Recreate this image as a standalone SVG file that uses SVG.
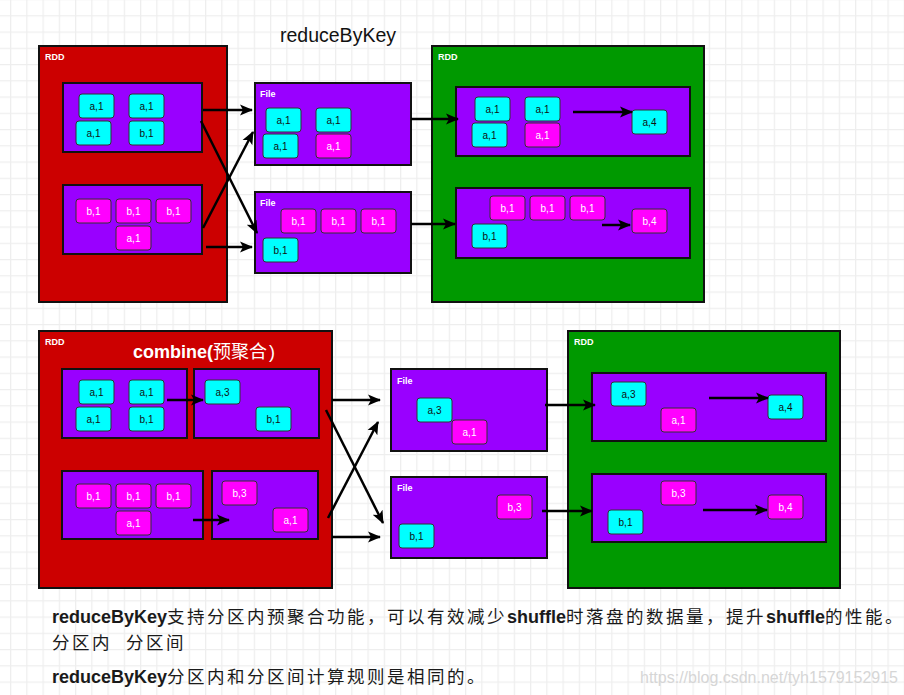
<svg xmlns="http://www.w3.org/2000/svg" width="904" height="695" viewBox="0 0 904 695">
<defs>
<pattern id="grid" patternUnits="userSpaceOnUse" x="10" y="-1" width="16.25" height="16.25">
<path d="M0 0.5H16.25M0.5 0V16.25" stroke="#eeeeee" stroke-width="1.5" fill="none"/>
</pattern>
<marker id="ah" markerUnits="userSpaceOnUse" markerWidth="14" markerHeight="14" refX="12" refY="7" orient="auto">
<path d="M0,1.5 L13,7 L0,12.5 L3,7 Z" fill="#000"/>
</marker>
<style>
.red{fill:#cc0000;stroke:#111;stroke-width:2}
.grn{fill:#009900;stroke:#111;stroke-width:2}
.pur{fill:#9900ff;stroke:#111;stroke-width:2}
.c{fill:#00ffff;stroke:#333;stroke-width:1}
.m{fill:#ff00ff;stroke:#333;stroke-width:1}
.ct{font-family:"Liberation Sans",Arial,sans-serif;font-size:10px;fill:#111;text-anchor:middle}
.mt{font-family:"Liberation Sans",Arial,sans-serif;font-size:10px;fill:#fff;text-anchor:middle}
.lbl{font-family:"Liberation Sans",Arial,sans-serif;font-size:9px;font-weight:bold;fill:#fff}
.cn{stroke:#000;stroke-width:2.5;fill:none;marker-end:url(#ah)}
.lat{font-family:"Liberation Sans",Arial,sans-serif;font-weight:bold;font-size:18px}
.cjk{font-family:"Noto Sans CJK SC",sans-serif;font-weight:normal}
.body{fill:#1a1a1a}
.bc{font-family:"Noto Sans CJK SC",sans-serif;font-size:17.5px;letter-spacing:2.5px}
</style>
</defs>
<rect width="904" height="695" fill="#ffffff"/>
<rect width="904" height="695" fill="url(#grid)"/>

<text x="280" y="42" font-family="'Liberation Sans',Arial,sans-serif" font-size="19.5" fill="#111">reduceByKey</text>

<g id="rdd-top-src">
<rect class="red" x="39" y="46" width="188" height="256"/>
<text class="lbl" x="45" y="60">RDD</text>
</g>
<g id="part-top-src-1">
<rect class="pur" x="63" y="83" width="139" height="69"/>
<rect class="c" x="79" y="94" width="35" height="24" rx="3"/><text class="ct" x="96.5" y="110">a,1</text>
<rect class="c" x="129" y="94" width="35" height="24" rx="3"/><text class="ct" x="146.5" y="110">a,1</text>
<rect class="c" x="76" y="121" width="35" height="24" rx="3"/><text class="ct" x="93.5" y="137">a,1</text>
<rect class="c" x="129" y="121" width="35" height="24" rx="3"/><text class="ct" x="146.5" y="137">b,1</text>
</g>
<g id="part-top-src-2">
<rect class="pur" x="63" y="185" width="139" height="69"/>
<rect class="m" x="76" y="199" width="35" height="24" rx="3"/><text class="mt" x="93.5" y="215">b,1</text>
<rect class="m" x="116" y="199" width="35" height="24" rx="3"/><text class="mt" x="133.5" y="215">b,1</text>
<rect class="m" x="156" y="199" width="35" height="24" rx="3"/><text class="mt" x="173.5" y="215">b,1</text>
<rect class="m" x="116" y="226" width="35" height="24" rx="3"/><text class="mt" x="133.5" y="242">a,1</text>
</g>

<g id="file-top-1">
<rect class="pur" x="255" y="83" width="156" height="82"/>
<text class="lbl" x="260" y="97">File</text>
<rect class="c" x="266" y="108" width="35" height="24" rx="3"/><text class="ct" x="283.5" y="124">a,1</text>
<rect class="c" x="316" y="108" width="35" height="24" rx="3"/><text class="ct" x="333.5" y="124">a,1</text>
<rect class="c" x="263" y="134" width="35" height="24" rx="3"/><text class="ct" x="280.5" y="150">a,1</text>
<rect class="m" x="316" y="134" width="35" height="24" rx="3"/><text class="mt" x="333.5" y="150">a,1</text>
</g>
<g id="file-top-2">
<rect class="pur" x="255" y="192" width="156" height="81"/>
<text class="lbl" x="260" y="206">File</text>
<rect class="m" x="281" y="209" width="35" height="24" rx="3"/><text class="mt" x="298.5" y="225">b,1</text>
<rect class="m" x="321" y="209" width="35" height="24" rx="3"/><text class="mt" x="338.5" y="225">b,1</text>
<rect class="m" x="361" y="209" width="35" height="24" rx="3"/><text class="mt" x="378.5" y="225">b,1</text>
<rect class="c" x="263" y="238" width="35" height="24" rx="3"/><text class="ct" x="280.5" y="254">b,1</text>
</g>

<g id="rdd-top-dst">
<rect class="grn" x="432" y="46" width="272" height="256"/>
<text class="lbl" x="438" y="60">RDD</text>
</g>
<g id="part-top-dst-1">
<rect class="pur" x="456" y="87" width="234" height="69"/>
<rect class="c" x="475" y="97" width="35" height="24" rx="3"/><text class="ct" x="492.5" y="113">a,1</text>
<rect class="c" x="525" y="97" width="35" height="24" rx="3"/><text class="ct" x="542.5" y="113">a,1</text>
<rect class="c" x="472" y="123" width="35" height="24" rx="3"/><text class="ct" x="489.5" y="139">a,1</text>
<rect class="m" x="525" y="123" width="35" height="24" rx="3"/><text class="mt" x="542.5" y="139">a,1</text>
<rect class="c" x="632" y="110" width="35" height="24" rx="3"/><text class="ct" x="649.5" y="126">a,4</text>
</g>
<g id="part-top-dst-2">
<rect class="pur" x="456" y="188" width="234" height="70"/>
<rect class="m" x="490" y="196" width="35" height="24" rx="3"/><text class="mt" x="507.5" y="212">b,1</text>
<rect class="m" x="530" y="196" width="35" height="24" rx="3"/><text class="mt" x="547.5" y="212">b,1</text>
<rect class="m" x="570" y="196" width="35" height="24" rx="3"/><text class="mt" x="587.5" y="212">b,1</text>
<rect class="c" x="472" y="224" width="35" height="24" rx="3"/><text class="ct" x="489.5" y="240">b,1</text>
<rect class="m" x="632" y="209" width="35" height="24" rx="3"/><text class="mt" x="649.5" y="225">b,4</text>
</g>

<g id="rdd-bot-src">
<rect class="red" x="39" y="331" width="293" height="257"/>
<text class="lbl" x="45" y="345">RDD</text>
<text x="133" y="358" font-size="18" fill="#fff"><tspan class="lat">combine(</tspan><tspan class="cjk">预聚合</tspan><tspan font-family="'Liberation Sans',sans-serif" dx="2">)</tspan></text>
</g>
<g id="part-bot-src-1a">
<rect class="pur" x="62" y="369" width="125" height="69"/>
<rect class="c" x="79" y="380" width="35" height="24" rx="3"/><text class="ct" x="96.5" y="396">a,1</text>
<rect class="c" x="129" y="380" width="35" height="24" rx="3"/><text class="ct" x="146.5" y="396">a,1</text>
<rect class="c" x="76" y="407" width="35" height="24" rx="3"/><text class="ct" x="93.5" y="423">a,1</text>
<rect class="c" x="129" y="407" width="35" height="24" rx="3"/><text class="ct" x="146.5" y="423">b,1</text>
</g>
<g id="part-bot-src-1b">
<rect class="pur" x="194" y="369" width="125" height="69"/>
<rect class="c" x="205" y="380" width="35" height="24" rx="3"/><text class="ct" x="222.5" y="396">a,3</text>
<rect class="c" x="256" y="407" width="35" height="24" rx="3"/><text class="ct" x="273.5" y="423">b,1</text>
</g>
<g id="part-bot-src-2a">
<rect class="pur" x="62" y="471" width="141" height="68"/>
<rect class="m" x="76" y="484" width="35" height="24" rx="3"/><text class="mt" x="93.5" y="500">b,1</text>
<rect class="m" x="116" y="484" width="35" height="24" rx="3"/><text class="mt" x="133.5" y="500">b,1</text>
<rect class="m" x="156" y="484" width="35" height="24" rx="3"/><text class="mt" x="173.5" y="500">b,1</text>
<rect class="m" x="116" y="511" width="35" height="24" rx="3"/><text class="mt" x="133.5" y="527">a,1</text>
</g>
<g id="part-bot-src-2b">
<rect class="pur" x="212" y="471" width="106" height="68"/>
<rect class="m" x="222" y="481" width="35" height="24" rx="3"/><text class="mt" x="239.5" y="497">b,3</text>
<rect class="m" x="273" y="508" width="35" height="24" rx="3"/><text class="mt" x="290.5" y="524">a,1</text>
</g>

<g id="file-bot-1">
<rect class="pur" x="391" y="369" width="156" height="82"/>
<text class="lbl" x="397" y="384">File</text>
<rect class="c" x="417" y="398" width="35" height="24" rx="3"/><text class="ct" x="434.5" y="414">a,3</text>
<rect class="m" x="452" y="420" width="35" height="24" rx="3"/><text class="mt" x="469.5" y="436">a,1</text>
</g>
<g id="file-bot-2">
<rect class="pur" x="391" y="477" width="156" height="81"/>
<text class="lbl" x="397" y="491">File</text>
<rect class="m" x="497" y="495" width="35" height="24" rx="3"/><text class="mt" x="514.5" y="511">b,3</text>
<rect class="c" x="399" y="524" width="35" height="24" rx="3"/><text class="ct" x="416.5" y="540">b,1</text>
</g>

<g id="rdd-bot-dst">
<rect class="grn" x="568" y="331" width="272" height="257"/>
<text class="lbl" x="574" y="345">RDD</text>
</g>
<g id="part-bot-dst-1">
<rect class="pur" x="592" y="373" width="234" height="68"/>
<rect class="c" x="611" y="382" width="35" height="24" rx="3"/><text class="ct" x="628.5" y="398">a,3</text>
<rect class="m" x="661" y="408" width="35" height="24" rx="3"/><text class="mt" x="678.5" y="424">a,1</text>
<rect class="c" x="768" y="395" width="35" height="24" rx="3"/><text class="ct" x="785.5" y="411">a,4</text>
</g>
<g id="part-bot-dst-2">
<rect class="pur" x="592" y="474" width="234" height="68"/>
<rect class="m" x="661" y="481" width="35" height="24" rx="3"/><text class="mt" x="678.5" y="497">b,3</text>
<rect class="c" x="608" y="510" width="35" height="24" rx="3"/><text class="ct" x="625.5" y="526">b,1</text>
<rect class="m" x="768" y="495" width="35" height="24" rx="3"/><text class="mt" x="785.5" y="511">b,4</text>
</g>

<g id="connectors">
<line class="cn" x1="203" y1="110" x2="252" y2="110"/>
<line class="cn" x1="201" y1="121" x2="257" y2="233"/>
<line class="cn" x1="203" y1="228" x2="253" y2="132"/>
<line class="cn" x1="206" y1="247" x2="252" y2="247"/>
<line class="cn" x1="411" y1="119" x2="458" y2="119"/>
<line class="cn" x1="411" y1="224" x2="455" y2="224"/>
<line class="cn" x1="573" y1="112" x2="632" y2="112"/>
<line class="cn" x1="602" y1="225" x2="630" y2="225"/>
<line class="cn" x1="167" y1="400" x2="203" y2="400"/>
<line class="cn" x1="193" y1="520" x2="229" y2="520"/>
<line class="cn" x1="332" y1="400" x2="380" y2="400"/>
<line class="cn" x1="332" y1="537" x2="380" y2="537"/>
<line class="cn" x1="326" y1="410" x2="383" y2="523"/>
<line class="cn" x1="328" y1="518" x2="378" y2="422"/>
<line class="cn" x1="545" y1="405" x2="595" y2="405"/>
<line class="cn" x1="542" y1="511" x2="592" y2="511"/>
<line class="cn" x1="709" y1="398" x2="768" y2="398"/>
<line class="cn" x1="703" y1="510" x2="767" y2="510"/>
</g>

<g id="notes">
<text class="body" x="52" y="623"><tspan class="lat">reduceByKey</tspan><tspan class="bc">支持分区内预聚合功能，可以有效减少</tspan><tspan class="lat">shuffle</tspan><tspan class="bc">时落盘的数据量，提升</tspan><tspan class="lat">shuffle</tspan><tspan class="bc">的性能。</tspan></text>
<text class="body bc" x="52" y="649"><tspan>分区内</tspan><tspan x="126">分区间</tspan></text>
<text class="body" x="52" y="683"><tspan class="lat">reduceByKey</tspan><tspan class="bc">分区内和分区间计算规则是相同的。</tspan></text>
<text x="640" y="683" font-family="'Liberation Sans',Arial,sans-serif" font-size="16" fill="#d6d6d6">https://blog.csdn.net/tyh1579152915</text>
</g>
</svg>
